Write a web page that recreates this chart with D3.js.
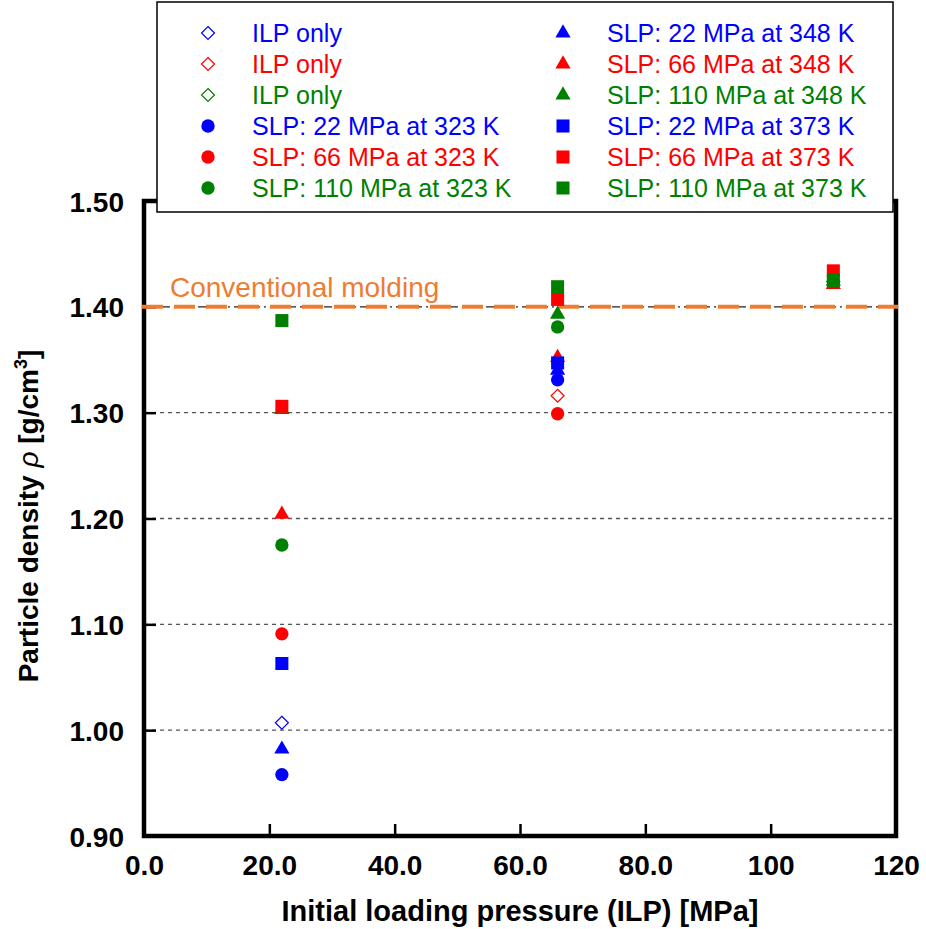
<!DOCTYPE html>
<html>
<head>
<meta charset="utf-8">
<script src="https://d3js.org/d3.v7.min.js"></script>
<style>
  body { margin: 0; background: #fff; }
  text { font-family: "Liberation Sans", Arial, sans-serif; }
</style>
</head>
<body>
<script>
// x positions (initial loading pressure, MPa)
var ilp = [22, 66, 110];

// particle density, one value per ILP (null = not plotted)
var ilpOnlyBlue  = [1.007, null, null];
var ilpOnlyRed   = [null, 1.316, null];
var ilpOnlyGreen = [null, null, 1.424];
var slp22at323   = [0.958, 1.331, null];
var slp66at323   = [1.091, 1.299, null];
var slp110at323  = [1.175, 1.381, 1.424];
var slp22at348   = [0.982, 1.340, null];
var slp66at348   = [1.204, 1.352, 1.421];
var slp110at348  = [1.303, 1.393, 1.424];
var slp22at373   = [1.063, 1.347, null];
var slp66at373   = [1.306, 1.407, 1.434];
var slp110at373  = [1.387, 1.419, 1.425];

var conventional = 1.40;

var xTicks = [0, 20, 40, 60, 80, 100, 120];
var xTickLabels = ["0.0", "20.0", "40.0", "60.0", "80.0", "100", "120"];
var yTicks = [0.9, 1.0, 1.1, 1.2, 1.3, 1.4, 1.5];
var yTickLabels = ["0.90", "1.00", "1.10", "1.20", "1.30", "1.40", "1.50"];

var blue = "#0000ff", red = "#ff0000", green = "#008000";

var series = [
  {name: "ILP only", color: blue, shape: "diamond", values: ilpOnlyBlue},
  {name: "ILP only", color: red, shape: "diamond", values: ilpOnlyRed},
  {name: "ILP only", color: green, shape: "diamond", values: ilpOnlyGreen},
  {name: "SLP: 22 MPa at 323 K", color: blue, shape: "circle", values: slp22at323},
  {name: "SLP: 66 MPa at 323 K", color: red, shape: "circle", values: slp66at323},
  {name: "SLP: 110 MPa at 323 K", color: green, shape: "circle", values: slp110at323},
  {name: "SLP: 22 MPa at 348 K", color: blue, shape: "triangle", values: slp22at348},
  {name: "SLP: 66 MPa at 348 K", color: red, shape: "triangle", values: slp66at348},
  {name: "SLP: 110 MPa at 348 K", color: green, shape: "triangle", values: slp110at348},
  {name: "SLP: 22 MPa at 373 K", color: blue, shape: "square", values: slp22at373},
  {name: "SLP: 66 MPa at 373 K", color: red, shape: "square", values: slp66at373},
  {name: "SLP: 110 MPa at 373 K", color: green, shape: "square", values: slp110at373}
];

var width = 926, height = 929;
var plotL = 144, plotR = 896, plotT = 201, plotB = 836;

var svg = d3.select("body").append("svg")
    .attr("width", width)
    .attr("height", height);

var x = d3.scaleLinear().domain([0, 120]).range([plotL, plotR]);
var y = d3.scaleLinear().domain([0.9, 1.5]).range([plotB, plotT]);

//dotted gridlines
svg.append("g").selectAll("line")
    .data([1.0, 1.1, 1.2, 1.3])
    .enter().append("line")
    .attr("x1", plotL).attr("x2", plotR)
    .attr("y1", d => y(d)).attr("y2", d => y(d))
    .attr("stroke", "#555")
    .attr("stroke-width", 1.3)
    .attr("stroke-dasharray", "4,4");

//the 1.40 gridline is dash-dot
svg.append("line")
    .attr("x1", plotL).attr("x2", plotR)
    .attr("y1", y(1.4)).attr("y2", y(1.4))
    .attr("stroke", "#222")
    .attr("stroke-width", 1.3)
    .attr("stroke-dasharray", "8,4,2,4");

//axes, ticks pointing inward
var xAxis = d3.axisBottom(x).tickValues(xTicks)
    .tickSizeInner(-12).tickSizeOuter(0).tickPadding(15)
    .tickFormat((d, i) => xTickLabels[i]);
var gx = svg.append("g").attr("transform", "translate(0," + plotB + ")").call(xAxis);

var yAxis = d3.axisLeft(y).tickValues(yTicks)
    .tickSizeInner(-12).tickSizeOuter(0).tickPadding(20)
    .tickFormat((d, i) => yTickLabels[i]);
var gy = svg.append("g").attr("transform", "translate(" + plotL + ",0)").call(yAxis);

[gx, gy].forEach(function(g) {
  g.select(".domain").remove();
  g.selectAll(".tick line").attr("stroke", "#000").attr("stroke-width", 2.5);
  g.selectAll(".tick text")
      .style("font-family", "'Liberation Sans', Arial, sans-serif")
      .style("font-size", "28px")
      .style("font-weight", "bold")
      .attr("fill", "#000");
});
gy.selectAll(".tick text").attr("dy", "0.36em");
gx.selectAll(".tick text").attr("dy", "0.85em");

//frame
svg.append("rect")
    .attr("x", plotL).attr("y", plotT)
    .attr("width", plotR - plotL).attr("height", plotB - plotT)
    .attr("fill", "none")
    .attr("stroke", "#000")
    .attr("stroke-width", 4.5);

//conventional molding line
svg.append("line")
    .attr("x1", plotL - 2).attr("x2", plotR + 2)
    .attr("y1", y(conventional)).attr("y2", y(conventional))
    .attr("stroke", "#ed7d31")
    .attr("stroke-width", 4)
    .attr("stroke-dasharray", "21,11");

svg.append("text")
    .attr("x", 170).attr("y", y(conventional) - 10)
    .attr("fill", "#ed7d31")
    .style("font-size", "28px")
    .text("Conventional molding");

//markers
var diamondPath = "M0,-6.5L6.5,0L0,6.5L-6.5,0Z";

function drawMarker(g, s) {
  var p;
  if (s.shape === "diamond") {
    p = g.append("path").attr("d", diamondPath)
        .attr("fill", "none").attr("stroke", s.color).attr("stroke-width", 1.2);
  } else if (s.shape === "circle") {
    p = g.append("path").attr("d", d3.symbol(d3.symbolCircle, 140)()).attr("fill", s.color);
  } else if (s.shape === "triangle") {
    p = g.append("path").attr("d", d3.symbol(d3.symbolTriangle, 100)()).attr("fill", s.color);
  } else {
    p = g.append("path").attr("d", d3.symbol(d3.symbolSquare, 170)()).attr("fill", s.color);
  }
  return p;
}

series.forEach(function(s) {
  s.values.forEach(function(v, i) {
    if (v === null) return;
    var g = svg.append("g")
        .attr("transform", "translate(" + x(ilp[i]) + "," + y(v) + ")");
    drawMarker(g, s);
  });
});

//axis titles
svg.append("text")
    .attr("x", (plotL + plotR) / 2).attr("y", 921)
    .attr("text-anchor", "middle")
    .style("font-size", "29px")
    .style("font-weight", "bold")
    .text("Initial loading pressure (ILP) [MPa]");

var yt = svg.append("text")
    .attr("transform", "translate(38,516) rotate(-90)")
    .attr("text-anchor", "middle")
    .style("font-size", "28px")
    .style("font-weight", "bold");
yt.append("tspan").text("Particle density ");
yt.append("tspan").style("font-style", "italic").style("font-weight", "normal").text("ρ");
yt.append("tspan").text("  [g/cm");
yt.append("tspan").attr("dy", -11).style("font-size", "18px").text("3");
yt.append("tspan").attr("dy", 11).text("]");

//legend
var legend = svg.append("g");
legend.append("rect")
    .attr("x", 157).attr("y", 2)
    .attr("width", 736).attr("height", 210)
    .attr("fill", "#fff")
    .attr("stroke", "#000")
    .attr("stroke-width", 1.5);

series.forEach(function(s, i) {
  var col = i < 6 ? 0 : 1;
  var row = i % 6;
  var mx = col === 0 ? 208 : 563;
  var ty = 33 + row * 31;
  var g = legend.append("g").attr("transform", "translate(" + mx + "," + ty + ")");
  drawMarker(g, s);
  legend.append("text")
      .attr("x", mx + 44).attr("y", ty)
      .attr("dy", "0.35em")
      .attr("fill", s.color)
      .style("font-size", "25px")
      .text(s.name);
});
</script>
</body>
</html>
